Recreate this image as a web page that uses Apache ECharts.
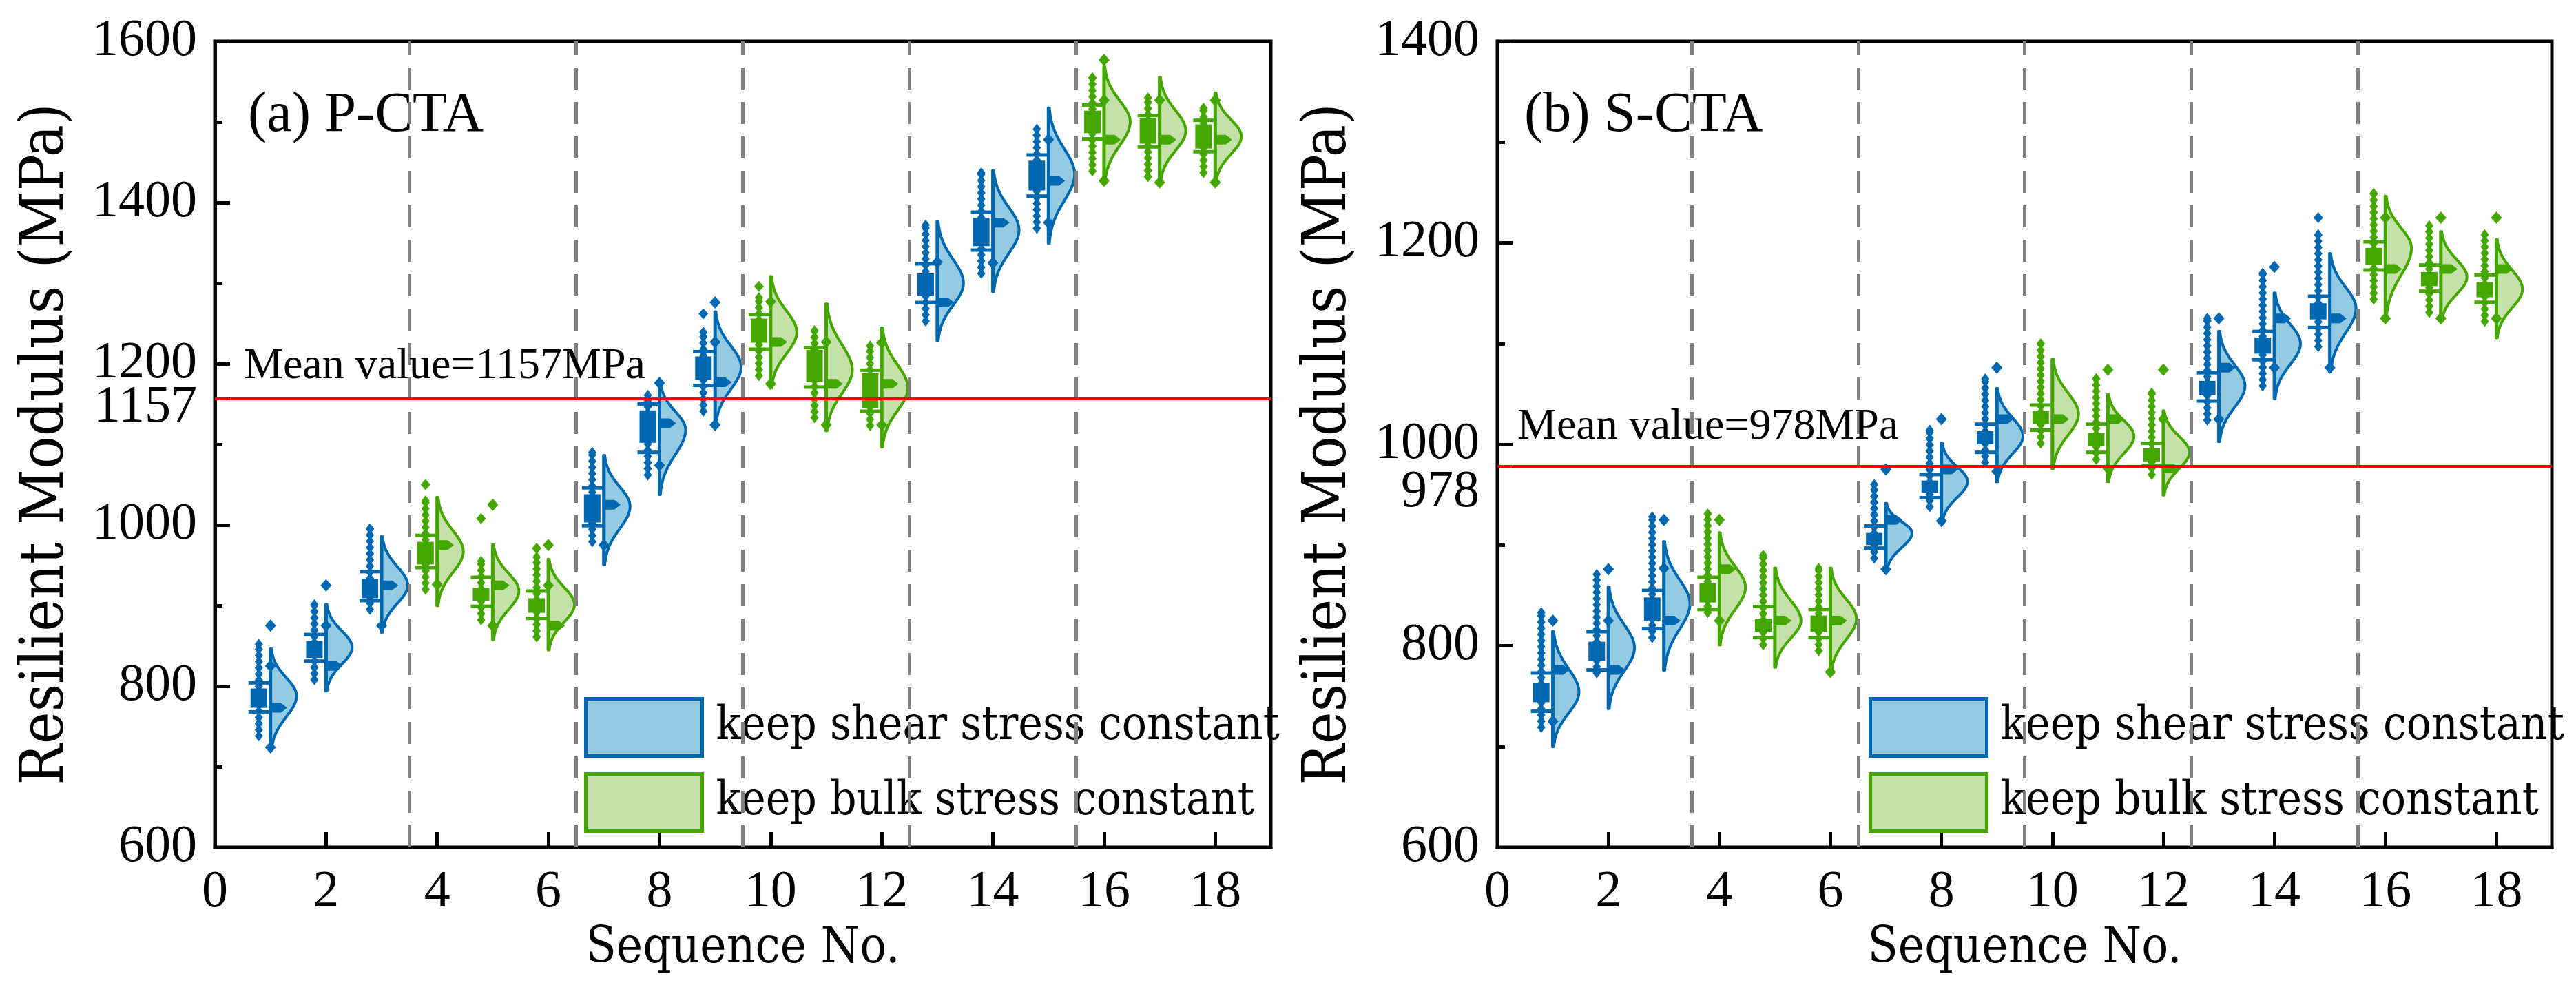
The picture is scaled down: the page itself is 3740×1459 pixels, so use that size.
<!DOCTYPE html>
<html>
<head>
<meta charset="utf-8">
<title>Resilient modulus - half violin</title>
<script src="https://cdn.jsdelivr.net/npm/echarts@6/dist/echarts.min.js"></script>
<style>
html, body { margin: 0; padding: 0; background: #fff; }
#chart { width: 3740px; height: 1459px; }
</style>
</head>
<body>
<div id="chart"></div>
<script>
// sequence numbers and which stress state is kept constant
const seqNo = [1, 2, 3, 4, 5, 6, 7, 8, 9, 10, 11, 12, 13, 14, 15, 16, 17, 18]
const stressCase = ['shear', 'shear', 'shear', 'bulk', 'bulk', 'bulk', 'shear', 'shear', 'shear',
  'bulk', 'bulk', 'bulk', 'shear', 'shear', 'shear', 'bulk', 'bulk', 'bulk']
const dividers = [3.5, 6.5, 9.5, 12.5, 15.5]
const xTicks = [0, 2, 4, 6, 8, 10, 12, 14, 16, 18]

// (a) P-CTA
const aMean = 1157
const aTicks = [600, 800, 1000, 1157, 1200, 1400, 1600]
const aMin = [720, 794, 867, 900, 858, 845, 951, 1038, 1124, 1170, 1117, 1097, 1229, 1290, 1350, 1425, 1425, 1425]
const aMax = [846, 901, 985, 1034, 975, 957, 1086, 1177, 1264, 1308, 1274, 1244, 1376, 1439, 1517, 1568, 1555, 1536]
const aPeak = [788, 848, 925, 967, 918, 901, 1023, 1118, 1196, 1239, 1192, 1170, 1300, 1366, 1435, 1500, 1489, 1482]
const aQ1 = [773, 835, 909, 951, 906, 891, 1003, 1102, 1180, 1226, 1177, 1145, 1284, 1346, 1415, 1486, 1473, 1467]
const aQ3 = [797, 856, 933, 979, 922, 909, 1038, 1142, 1209, 1256, 1217, 1188, 1312, 1381, 1452, 1514, 1505, 1497]
const aWhiskLo = [768, 831, 906, 947, 899, 884, 999, 1090, 1173, 1218, 1171, 1141, 1276, 1341, 1408, 1479, 1469, 1463]
const aWhiskHi = [804, 864, 942, 987, 935, 918, 1046, 1150, 1215, 1261, 1220, 1192, 1324, 1388, 1459, 1521, 1508, 1502]
const aArrow = [773, 825, 925, 975, 925, 875, 1025, 1126, 1177, 1227, 1175, 1175, 1276, 1375, 1427, 1478, 1478, 1478]
const aPtLo = [738, 808, 895, 920, 882, 861, 979, 1062, 1141, 1185, 1133, 1123, 1253, 1312, 1368, 1439, 1432, 1437]
const aPtHi = [852, 901, 995, 1030, 955, 960, 1090, 1161, 1239, 1282, 1241, 1222, 1372, 1437, 1491, 1555, 1530, 1517]
const aMarks = [[724, 825], [875], [875], [926], [875], [925], [975], [1074, 1176], [1124, 1227], [1175, 1277],
  [1124, 1227], [1124, 1226], [1326], [1325], [1375, 1478], [1427, 1527], [1425, 1527], [1425, 1527]]
const aSpineOut = [[875], [925], [], [], [1025], [975], [], [], [1276], [], [], [], [], [], [], [1577], [], []]
const aLeftOut = [[], [], [], [1050], [1008], [971], [], [], [1262], [1296], [], [], [], [], [], [], [], []]

// (b) S-CTA
const bMean = 978
const bTicks = [600, 800, 978, 1000, 1200, 1400]
const bMin = [700, 738, 776, 801, 779, 773, 874, 922, 963, 976, 963, 950, 1003, 1046, 1072, 1125, 1122, 1106]
const bMax = [814, 858, 903, 912, 877, 877, 941, 1001, 1055, 1084, 1049, 1033, 1112, 1150, 1189, 1246, 1211, 1203]
const bPeak = [754, 798, 842, 858, 825, 827, 912, 963, 1008, 1030, 1008, 992, 1058, 1100, 1135, 1195, 1166, 1154]
const bQ1 = [744, 785, 825, 843, 814, 814, 900, 952, 1000, 1020, 998, 983, 1049, 1090, 1124, 1178, 1157, 1146]
const bQ3 = [763, 804, 848, 862, 827, 830, 912, 964, 1013, 1033, 1011, 996, 1063, 1106, 1140, 1195, 1171, 1161]
const bWhiskLo = [735, 776, 817, 836, 808, 808, 897, 947, 992, 1014, 992, 979, 1043, 1084, 1116, 1173, 1152, 1141]
const bWhiskHi = [773, 814, 855, 868, 839, 836, 919, 970, 1020, 1039, 1020, 1001, 1071, 1112, 1147, 1201, 1178, 1168]
const bArrow = [776, 776, 825, 876, 825, 825, 925, 975, 1025, 1025, 1025, 976, 1076, 1125, 1125, 1174, 1174, 1174]
const bPtLo = [719, 773, 808, 833, 801, 795, 887, 938, 982, 1001, 985, 970, 1024, 1058, 1097, 1144, 1131, 1122]
const bPtHi = [833, 871, 928, 931, 890, 877, 960, 1014, 1065, 1100, 1065, 1051, 1125, 1170, 1208, 1249, 1217, 1208]
const bMarks = [[725], [825], [877], [825], [], [774], [876], [924], [973], [], [976], [1025], [1025], [1076],
  [1076], [1125, 1225], [1125], [1125]]
const bSpineOut = [[825], [876], [925], [925], [], [], [975], [1025], [1076], [], [1074], [1074], [1125], [1176], [], [], [1225], [1225]]
const bLeftOut = [[], [], [], [], [], [], [], [], [], [], [], [], [], [], [1225], [], [], []]

const FONT = 'Liberation Serif'
// axis titles and legend labels do not pick up Liberation Serif here, this one does
const TITLE_FONT = 'DejaVu Serif Condensed'
const colors = {
  shear: { dark: '#0068B0', light: '#94CBE3' },
  bulk: { dark: '#43A700', light: '#C5E1AA' }
}
const caseNames = { shear: 'keep shear stress constant', bulk: 'keep bulk stress constant' }

const statsA = { min: aMin, max: aMax, peak: aPeak, q1: aQ1, q3: aQ3, wLo: aWhiskLo, wHi: aWhiskHi,
  arrow: aArrow, ptLo: aPtLo, ptHi: aPtHi, marks: aMarks, spineOut: aSpineOut, leftOut: aLeftOut }
const statsB = { min: bMin, max: bMax, peak: bPeak, q1: bQ1, q3: bQ3, wLo: bWhiskLo, wHi: bWhiskHi,
  arrow: bArrow, ptLo: bPtLo, ptHi: bPtHi, marks: bMarks, spineOut: bSpineOut, leftOut: bLeftOut }

function diamond(cx, cy, hw, hh, fill) {
  return {
    type: 'polygon',
    shape: { points: [[cx, cy - hh], [cx + hw, cy], [cx, cy + hh], [cx - hw, cy]] },
    style: { fill: fill }
  }
}

// one half violin + box + point column per sequence
function makeRender(st, col) {
  return function (params, api) {
    const x = api.value(0)
    const k = api.value(3)
    const unit = api.size([1, 0])[0]
    const c = (dx, v) => api.coord([x + dx, v])
    const kids = []

    const lo = st.min[k], hi = st.max[k], pk = st.peak[k]
    const outline = []
    for (let j = 0; j <= 60; j++) {
      const v = lo + (hi - lo) * j / 60
      const s = (v < pk ? pk - lo : hi - pk) / 2.6
      outline.push(c(0.47 * Math.exp(-0.5 * Math.pow((v - pk) / s, 2)), v))
    }
    outline.push(c(0, hi), c(0, lo))
    kids.push({ type: 'polygon', shape: { points: outline }, style: { fill: col.light, stroke: col.dark, lineWidth: 4 } })

    const sTop = c(0, hi), sBot = c(0, lo)
    kids.push({ type: 'line', shape: { x1: sTop[0], y1: sTop[1], x2: sBot[0], y2: sBot[1] },
      style: { stroke: col.dark, lineWidth: 5, lineCap: 'round' } })

    const a = c(0, st.arrow[k])
    const len = 0.3 * unit
    kids.push({ type: 'polygon', shape: { points: [[a[0], a[1] - 7], [a[0] + len - 9, a[1] - 7], [a[0] + len, a[1]],
      [a[0] + len - 9, a[1] + 7], [a[0], a[1] + 7]] }, style: { fill: col.dark } })
    st.marks[k].concat(st.spineOut[k]).forEach(v => {
      const p = c(0, v)
      kids.push(diamond(p[0], p[1], 8, 9, col.dark))
    })

    // left column: data points + box
    const dx = -0.21
    const top = c(dx, st.ptHi[k]), bot = c(dx, st.ptLo[k])
    for (let y = bot[1]; y >= top[1]; y -= 9) kids.push(diamond(top[0], y, 6, 8, col.dark))
    kids.push(diamond(top[0], top[1], 6, 8, col.dark))
    st.leftOut[k].forEach(v => {
      const p = c(dx, v)
      kids.push(diamond(p[0], p[1], 7, 8, col.dark))
    })
    const q3 = c(dx, st.q3[k]), q1 = c(dx, st.q1[k])
    kids.push({ type: 'rect', shape: { x: q3[0] - 12, y: q3[1], width: 24, height: q1[1] - q3[1] }, style: { fill: col.dark } })
    ;[st.wLo[k], st.wHi[k]].forEach(v => {
      const p = c(dx, v)
      kids.push({ type: 'line', shape: { x1: p[0] - 15, y1: p[1], x2: p[0] + 15, y2: p[1] }, style: { stroke: col.dark, lineWidth: 5 } })
    })
    return { type: 'group', children: kids }
  }
}

function refLines(mean, dist) {
  return {
    silent: true,
    symbol: ['none', 'none'],
    animation: false,
    data: dividers.map(v => ({ xAxis: v, lineStyle: { type: [32, 18], color: '#808080', width: 5 }, label: { show: false } }))
      .concat([{
        yAxis: mean,
        lineStyle: { type: 'solid', color: '#FF0000', width: 4 },
        label: {
          show: true,
          position: 'insideStartTop',
          distance: dist,
          formatter: 'Mean value=' + mean + 'MPa',
          fontSize: 64,
          fontFamily: FONT,
          color: '#000'
        }
      }])
  }
}

function violinSeries(panel, st, kind, mean, dist) {
  const data = []
  seqNo.forEach((x, k) => {
    if (stressCase[k] === kind) data.push([x, st.min[k], st.max[k], k])
  })
  const s = {
    type: 'custom',
    name: caseNames[kind],
    xAxisIndex: panel,
    yAxisIndex: panel,
    renderItem: makeRender(st, colors[kind]),
    encode: { x: 0, y: [1, 2] },
    itemStyle: { color: colors[kind].light, borderColor: colors[kind].dark },
    data: data
  }
  if (kind === 'shear') s.markLine = refLines(mean, dist)
  return s
}

function xAxisCfg(gi) {
  return {
    type: 'value', gridIndex: gi, min: 0, max: 19, interval: 2,
    name: 'Sequence No.', nameLocation: 'middle', nameGap: 112, nameMoveOverlap: false,
    nameTextStyle: { fontSize: 72, fontFamily: TITLE_FONT, color: '#000' },
    axisLine: { show: true, onZero: false, lineStyle: { color: '#000', width: 5 } },
    axisTick: { show: true, inside: true, length: 22, customValues: xTicks, lineStyle: { color: '#000', width: 5 } },
    axisLabel: { customValues: xTicks, fontSize: 76, fontFamily: FONT, color: '#000', margin: 28,
      formatter: v => String(v) },
    splitLine: { show: false }
  }
}

// the mean-value tick label sits a little below its tick, as in the source figure
function yAxisCfg(gi, max, ticks, mean, drop) {
  const lab = { fontSize: 76, fontFamily: FONT, color: '#000' }
  return {
    type: 'value', gridIndex: gi, min: 600, max: max, interval: 200,
    name: 'Resilient Modulus (MPa)', nameLocation: 'middle', nameGap: 200, nameMoveOverlap: false,
    nameTextStyle: { fontSize: 88, fontFamily: TITLE_FONT, color: '#000' },
    axisLine: { show: true, onZero: false, lineStyle: { color: '#000', width: 5 } },
    axisTick: { show: true, inside: true, length: 22, customValues: ticks, lineStyle: { color: '#000', width: 5 } },
    minorTick: { show: true, splitNumber: 2, length: 11, lineStyle: { color: '#000', width: 5 } },
    axisLabel: Object.assign({}, lab, {
      customValues: ticks, margin: 26,
      formatter: v => (v === mean ? '{m|' + v + '}' : String(v)),
      rich: { m: Object.assign({}, lab, { padding: [drop * 2, 0, 0, 0] }) }
    }),
    splitLine: { show: false },
    minorSplitLine: { show: false }
  }
}

function legendCfg(left) {
  return {
    left: left, top: 1012, orient: 'vertical', padding: 0,
    itemWidth: 169, itemHeight: 83, itemGap: 21, icon: 'rect', selectedMode: false,
    textStyle: { fontSize: 67, fontFamily: TITLE_FONT, color: '#000', padding: [0, 0, 0, 15] },
    data: ['shear', 'bulk'].map(kind => ({
      name: caseNames[kind],
      itemStyle: { color: colors[kind].light, borderColor: colors[kind].dark, borderWidth: 5 }
    }))
  }
}

function panelTag(text, x) {
  return {
    type: 'text', x: x, y: 168, silent: true,
    style: { text: text, fontSize: 82, fontFamily: FONT, fill: '#000', align: 'left', verticalAlign: 'middle' }
  }
}

const myChart = echarts.init(document.getElementById('chart'))
const option = {
  animation: false,
  backgroundColor: '#fff',
  grid: [
    { left: 312, top: 60, width: 1533, height: 1170, show: true, borderColor: '#000', borderWidth: 5 },
    { left: 2174, top: 60, width: 1531, height: 1170, show: true, borderColor: '#000', borderWidth: 5 }
  ],
  xAxis: [xAxisCfg(0), xAxisCfg(1)],
  yAxis: [yAxisCfg(0, 1600, aTicks, aMean, 14), yAxisCfg(1, 1400, bTicks, bMean, 38)],
  legend: [legendCfg(848), legendCfg(2713)],
  graphic: [panelTag('(a) P-CTA', 360), panelTag('(b) S-CTA', 2213)],
  series: [
    violinSeries(0, statsA, 'shear', aMean, [42, 14]),
    violinSeries(0, statsA, 'bulk', aMean),
    violinSeries(1, statsB, 'shear', bMean, [29, 25]),
    violinSeries(1, statsB, 'bulk', bMean)
  ]
}
myChart.setOption(option)
</script>
</body>
</html>
